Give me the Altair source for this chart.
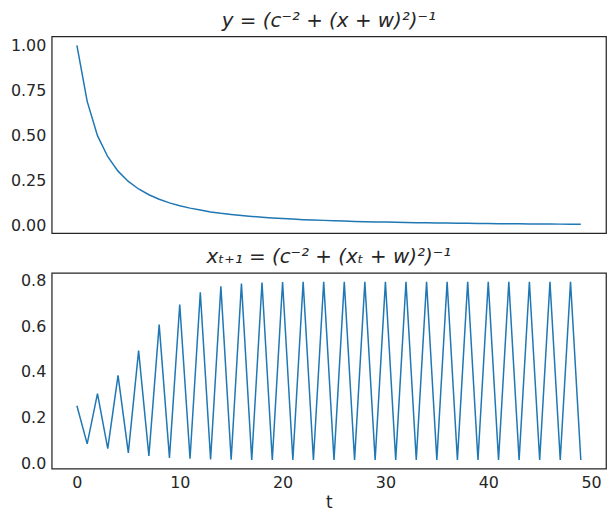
import altair as alt
import pandas as pd

t_vals = list(range(50))

y_vals = [1.000, 0.690, 0.500, 0.383, 0.303, 0.246, 0.204, 0.172, 0.147, 0.127,
          0.111, 0.098, 0.087, 0.077, 0.069, 0.0625, 0.057, 0.052, 0.047, 0.043,
          0.040, 0.037, 0.034, 0.032, 0.030, 0.028, 0.026, 0.024, 0.023, 0.0216,
          0.0204, 0.0193, 0.0183, 0.0173, 0.0164, 0.0156, 0.0149, 0.0142, 0.0135, 0.0129,
          0.0123, 0.0118, 0.0113, 0.0109, 0.0104, 0.0100, 0.0096, 0.0092, 0.0089, 0.0086]

x_vals = [0.252, 0.085, 0.305, 0.064, 0.385, 0.046, 0.493, 0.032, 0.607, 0.024,
          0.695, 0.020, 0.748, 0.017, 0.774, 0.016, 0.786, 0.015, 0.791, 0.015,
          0.793, 0.015, 0.794, 0.015, 0.794, 0.015, 0.794, 0.015, 0.794, 0.015,
          0.794, 0.015, 0.794, 0.015, 0.794, 0.015, 0.794, 0.015, 0.794, 0.015,
          0.794, 0.015, 0.794, 0.015, 0.794, 0.015, 0.794, 0.015, 0.794, 0.015]

top_title = "y = (c⁻² + (x + w)²)⁻¹"
bottom_title = "xₜ₊₁ = (c⁻² + (xₜ + w)²)⁻¹"
x_ticks = [0, 10, 20, 30, 40, 50]
top_ticks = [0.0, 0.25, 0.5, 0.75, 1.0]
bottom_ticks = [0.0, 0.2, 0.4, 0.6, 0.8]

FONT = "DejaVu Sans"
TEXT = "#262626"
BLUE = "#1f77b4"

df1 = pd.DataFrame({"t": t_vals, "y": y_vals})
df2 = pd.DataFrame({"t": t_vals, "x": x_vals})

xscale = alt.Scale(domain=[-2.45, 51.45], nice=False, zero=False)

def ttl(text):
    return alt.TitleParams(text, font=FONT, fontSize=20, fontStyle="italic",
                           fontWeight="normal", color=TEXT, offset=6, anchor="middle")

top = alt.Chart(df1, title=ttl(top_title)).mark_line(color=BLUE, strokeWidth=1.5).encode(
    x=alt.X("t:Q", scale=xscale, axis=None),
    y=alt.Y("y:Q", scale=alt.Scale(domain=[-0.041, 1.0496], nice=False, zero=False),
            axis=alt.Axis(values=top_ticks, format=".2f", title=None,
                          minExtent=43, maxExtent=43)),
).properties(width=558, height=198)

bottom = alt.Chart(df2, title=ttl(bottom_title)).mark_line(color=BLUE, strokeWidth=1.5).encode(
    x=alt.X("t:Q", scale=xscale,
            axis=alt.Axis(values=x_ticks, format="d", title="t", titleFontSize=17,
                          titleFont=FONT, titleColor=TEXT, titleFontWeight="normal",
                          titlePadding=4)),
    y=alt.Y("x:Q", scale=alt.Scale(domain=[-0.023, 0.833], nice=False, zero=False),
            axis=alt.Axis(values=bottom_ticks, format=".1f", title=None,
                          minExtent=43, maxExtent=43)),
).properties(width=558, height=197)

chart = alt.vconcat(top, bottom, spacing=10).properties(
    padding={"left": 0, "top": 0, "right": 0, "bottom": 0},
    background="white",
).configure_view(
    stroke=TEXT, strokeWidth=1.25
).configure_axis(
    labelFont=FONT, labelFontSize=16, labelColor=TEXT, ticks=False, domain=False,
    grid=False, labelPadding=6
)

chart.save("out.html", embed_options={"renderer": "svg", "actions": False})
